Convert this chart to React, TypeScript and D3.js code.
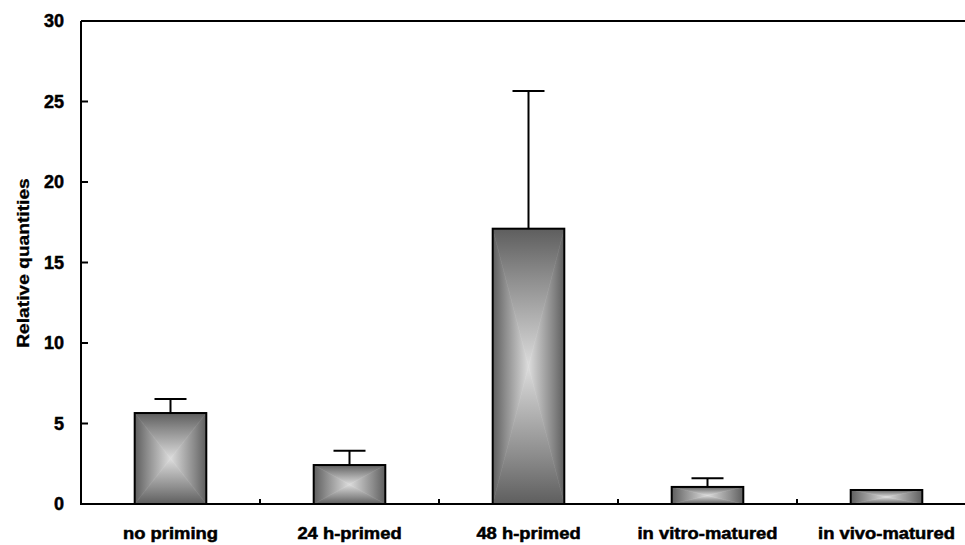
import React, { useEffect, useRef } from "react";
import * as d3 from "d3";

const categories = ["no priming", "24 h-primed", "48 h-primed", "in vitro-matured", "in vivo-matured"];
const values = [5.65, 2.42, 17.1, 1.06, 0.87];
const errors = [0.87, 0.88, 8.55, 0.54, 0];
const yTicks = [0, 5, 10, 15, 20, 25, 30];

const App = () => {
  const ref = useRef<SVGSVGElement>(null);

  useEffect(() => {
    const svg = d3.select(ref.current);
    svg.selectAll("*").remove();

    const left = 81;
    const right = 976;
    const top = 21;
    const bottom = 504;

    const x = d3.scaleBand<string>().domain(categories).range([left, right]);
    const y = d3.scaleLinear().domain([0, 30]).range([bottom, top]);
    const barW = x.bandwidth() * 0.4;
    const capW = 32;

    const defs = svg.append("defs");
    const edge = "#5e5e5e";
    const mid = "#dcdcdc";

    const bars = categories.map((c, i) => {
      const cx = x(c)! + x.bandwidth() / 2;
      return { c, i, x0: cx - barW / 2, x1: cx + barW / 2, y0: y(values[i]), y1: y(0), cx };
    });

    const grad = (id: string, x1: number, y1: number, x2: number, y2: number) => {
      const g = defs.append("linearGradient")
        .attr("id", id)
        .attr("gradientUnits", "userSpaceOnUse")
        .attr("x1", x1).attr("y1", y1).attr("x2", x2).attr("y2", y2);
      g.append("stop").attr("offset", 0).attr("stop-color", edge);
      g.append("stop").attr("offset", 0.35).attr("stop-color", "#8c8c8c");
      g.append("stop").attr("offset", 1).attr("stop-color", mid);
    };

    const g = svg.append("g");
    bars.forEach(b => {
      const mx = (b.x0 + b.x1) / 2;
      const my = (b.y0 + b.y1) / 2;
      const id = `b${b.i}`;
      grad(id + "t", mx, b.y0, mx, my);
      grad(id + "b", mx, b.y1, mx, my);
      grad(id + "l", b.x0, my, mx, my);
      grad(id + "r", b.x1, my, mx, my);
      const tris: [string, number[][]][] = [
        ["t", [[b.x0, b.y0], [b.x1, b.y0], [mx, my]]],
        ["b", [[b.x0, b.y1], [b.x1, b.y1], [mx, my]]],
        ["l", [[b.x0, b.y0], [b.x0, b.y1], [mx, my]]],
        ["r", [[b.x1, b.y0], [b.x1, b.y1], [mx, my]]],
      ];
      tris.forEach(([k, pts]) => {
        g.append("polygon")
          .attr("points", pts.map(p => p.join(",")).join(" "))
          .attr("fill", `url(#${id}${k})`)
          .attr("stroke", `url(#${id}${k})`)
          .attr("stroke-width", 0.6);
      });
      g.append("rect")
        .attr("x", b.x0).attr("y", b.y0)
        .attr("width", b.x1 - b.x0).attr("height", b.y1 - b.y0)
        .attr("fill", "none").attr("stroke", "#000").attr("stroke-width", 2);

      if (errors[b.i] > 0) {
        const ye = y(values[b.i] + errors[b.i]);
        g.append("line")
          .attr("x1", b.cx).attr("x2", b.cx).attr("y1", b.y0).attr("y2", ye)
          .attr("stroke", "#000").attr("stroke-width", 2);
        g.append("line")
          .attr("x1", b.cx - capW / 2).attr("x2", b.cx + capW / 2).attr("y1", ye).attr("y2", ye)
          .attr("stroke", "#000").attr("stroke-width", 2);
      }
    });

    // frame: top line, left axis, baseline
    const axes = svg.append("g").attr("stroke", "#000").attr("stroke-width", 2).attr("fill", "none");
    axes.append("line").attr("x1", left).attr("x2", 965).attr("y1", top).attr("y2", top);
    axes.append("line").attr("x1", left).attr("x2", left).attr("y1", top).attr("y2", bottom + 1);
    axes.append("line").attr("x1", left - 1).attr("x2", 965).attr("y1", bottom).attr("y2", bottom);

    yTicks.forEach(t => {
      axes.append("line").attr("x1", left).attr("x2", left + 7).attr("y1", y(t)).attr("y2", y(t));
    });
    categories.slice(1).forEach(c => {
      axes.append("line").attr("x1", x(c)!).attr("x2", x(c)!).attr("y1", bottom).attr("y2", bottom - 5);
    });

    const font = "'Liberation Sans', Arial, sans-serif";
    svg.append("g")
      .selectAll("text")
      .data(yTicks)
      .join("text")
      .attr("x", 64)
      .attr("y", d => y(d))
      .attr("dy", "0.36em")
      .attr("text-anchor", "end")
      .attr("font-family", font)
      .attr("font-weight", "bold")
      .attr("font-size", 18)
      .attr("fill", "#000")
      .attr("stroke", "#000")
      .attr("stroke-width", 0.5)
      .text(d => d);

    svg.append("g")
      .selectAll("text")
      .data(categories)
      .join("text")
      .attr("transform", d => `translate(${x(d)! + x.bandwidth() / 2},539) scale(1.15,1)`)
      .attr("text-anchor", "middle")
      .attr("font-family", font)
      .attr("font-weight", "bold")
      .attr("font-size", 16)
      .attr("fill", "#000")
      .attr("stroke", "#000")
      .attr("stroke-width", 0.5)
      .text(d => d);

    svg.append("text")
      .attr("transform", "translate(28.5,263) rotate(-90) scale(1.2,1)")
      .attr("text-anchor", "middle")
      .attr("font-family", font)
      .attr("font-weight", "bold")
      .attr("font-size", 16)
      .attr("fill", "#000")
      .attr("stroke", "#000")
      .attr("stroke-width", 0.3)
      .text("Relative quantities");
  }, []);

  return (
    <svg
      ref={ref}
      width={965}
      height={545}
      style={{ position: "fixed", left: 0, top: 0, background: "#fff" }}
    />
  );
};

export default App;
